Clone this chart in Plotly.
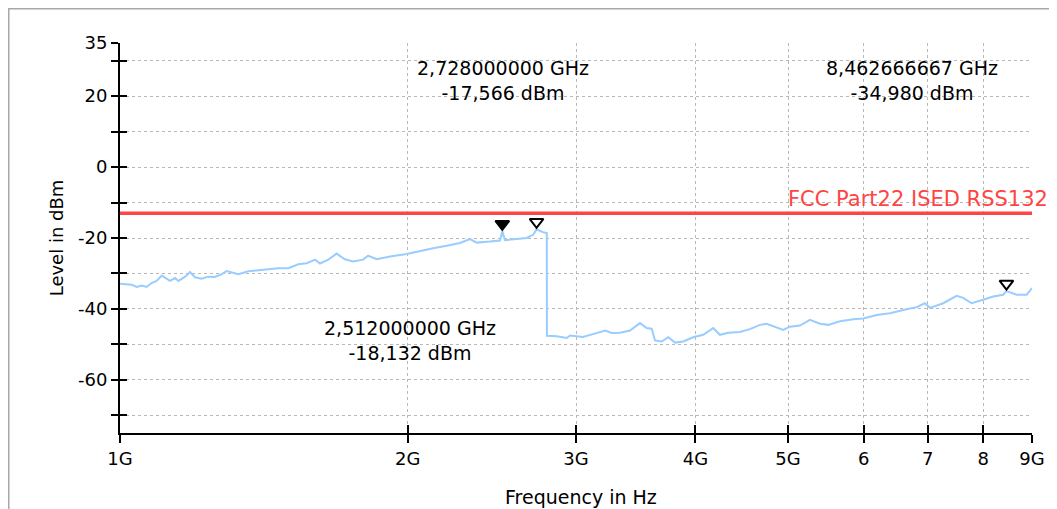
import plotly.graph_objects as go

# ---- data ----
freq_ghz = [1.000, 1.029, 1.041, 1.054, 1.066, 1.079, 1.092, 1.106, 1.128, 1.142,
            1.151, 1.170, 1.184, 1.198, 1.217, 1.237, 1.257, 1.278, 1.293, 1.314,
            1.330, 1.362, 1.395, 1.430, 1.464, 1.500, 1.537, 1.568, 1.600, 1.619,
            1.652, 1.685, 1.719, 1.753, 1.796, 1.818, 1.856, 1.917, 1.995, 2.060,
            2.126, 2.197, 2.268, 2.324, 2.362, 2.438, 2.498, 2.512, 2.528, 2.600,
            2.664, 2.706, 2.728, 2.773, 2.796, 2.797, 2.864, 2.934, 2.957, 3.051,
            3.115, 3.164, 3.218, 3.270, 3.336, 3.417, 3.500, 3.557, 3.600, 3.629,
            3.688, 3.747, 3.808, 3.885, 3.979, 4.076, 4.175, 4.243, 4.329, 4.453,
            4.561, 4.673, 4.749, 4.826, 4.943, 5.023, 5.145, 5.271, 5.400, 5.509,
            5.666, 5.851, 5.994, 6.190, 6.392, 6.600, 6.816, 6.954, 7.038, 7.267,
            7.505, 7.626, 7.781, 8.001, 8.197, 8.397, 8.463, 8.673, 8.887, 9.000]
level_dbm = [-32.9, -33.2, -33.8, -33.4, -33.8, -32.7, -32.1, -30.6, -32.1, -31.3,
             -32.1, -30.9, -29.6, -31.1, -31.5, -30.9, -31.0, -30.2, -29.3, -29.9,
             -30.2, -29.4, -29.2, -28.8, -28.5, -28.5, -27.4, -27.1, -26.1, -27.2,
             -26.1, -24.4, -26.0, -26.6, -26.1, -25.0, -26.0, -25.2, -24.5, -23.6,
             -22.9, -22.2, -21.4, -20.3, -21.3, -21.0, -20.7, -18.132, -20.6, -20.3,
             -20.0, -19.1, -17.566, -18.4, -18.6, -47.6, -47.7, -48.2, -47.5, -47.9,
             -47.3, -46.7, -46.1, -46.8, -46.7, -46.1, -44.0, -45.4, -45.6, -48.9,
             -49.2, -48.0, -49.5, -49.2, -48.0, -47.3, -45.4, -47.3, -46.7, -46.5,
             -45.7, -44.5, -44.2, -44.9, -45.9, -45.0, -44.7, -43.1, -44.2, -44.5,
             -43.5, -42.9, -42.7, -41.7, -41.2, -40.3, -39.5, -38.4, -39.7, -38.4,
             -36.3, -36.9, -38.4, -37.4, -36.5, -36.0, -34.98, -36.0, -36.0, -34.1]

limit_freq = [1.0, 9.0]
limit_level = [-13, -13]
limit_name = "FCC Part22 ISED RSS132"

marker_freq = [2.512, 2.728, 8.462666667]
marker_level = [-18.132, -17.566, -34.980]
marker_filled = [True, False, False]
marker_labels = ["2,512000000 GHz<br>-18,132 dBm",
                 "2,728000000 GHz<br>-17,566 dBm",
                 "8,462666667 GHz<br>-34,980 dBm"]

x_tickvals = [1, 2, 3, 4, 5, 6, 7, 8, 9]
x_ticktext = ["1G", "2G", "3G", "4G", "5G", "6", "7", "8", "9G"]
y_tickvals = [35, 30, 20, 10, 0, -10, -20, -30, -40, -50, -60, -70]
y_ticktext = ["35", "", "20", "", "0", "", "-20", "", "-40", "", "-60", ""]
x_title = "Frequency in Hz"
y_title = "Level in dBm"

# ---- styling ----
FONT = "DejaVu Sans"
TRACE_COLOR = "#99ccff"
LIMIT_COLOR = "#ff4444"
GRID_COLOR = "#b8b8b8"
X_RANGE = [0, 0.9542425094]
Y_RANGE = [-75, 35]
MARKER_OFFSET_DB = 2.1

fig = go.Figure()

fig.add_trace(go.Scatter(x=freq_ghz, y=level_dbm, mode="lines",
                         line=dict(color=TRACE_COLOR, width=2),
                         showlegend=False, hoverinfo="skip"))
fig.add_trace(go.Scatter(x=limit_freq, y=limit_level, mode="lines",
                         line=dict(color=LIMIT_COLOR, width=3.5),
                         showlegend=False, hoverinfo="skip"))

for f, lv, filled in zip(marker_freq, marker_level, marker_filled):
    fig.add_trace(go.Scatter(
        x=[f], y=[lv + MARKER_OFFSET_DB], mode="markers",
        marker=dict(symbol="triangle-down" if filled else "triangle-down-open",
                    size=12, color="black", line=dict(color="black", width=2)),
        showlegend=False, hoverinfo="skip"))

# invisible trace for the overlay axes (inside half of crossing ticks)
fig.add_trace(go.Scatter(x=[1], y=[0], xaxis="x2", yaxis="y2", mode="markers",
                         marker=dict(opacity=0), showlegend=False, hoverinfo="skip"))

axis_font = dict(family=FONT, size=18, color="black")

fig.update_layout(
    width=1049, height=501,
    margin=dict(l=112, r=25, t=35, b=76, autoexpand=False),
    paper_bgcolor="white",
    plot_bgcolor="white",
    font=dict(family=FONT, size=18, color="black"),
    xaxis=dict(type="log", range=X_RANGE, tickvals=x_tickvals, ticktext=x_ticktext,
               ticks="outside", ticklen=8, tickwidth=2, tickcolor="black",
               showline=True, linecolor="black", linewidth=2,
               showgrid=True, gridcolor=GRID_COLOR, griddash="dot", gridwidth=1,
               zeroline=False, tickfont=axis_font, automargin=False),
    yaxis=dict(range=Y_RANGE, tickvals=y_tickvals, ticktext=y_ticktext,
               ticks="outside", ticklen=7, tickwidth=2, tickcolor="black",
               showline=True, linecolor="black", linewidth=2,
               showgrid=True, gridcolor=GRID_COLOR, griddash="dot", gridwidth=1,
               zeroline=False, tickfont=axis_font, automargin=False,
               title=dict(text=y_title, font=axis_font, standoff=10)),
    xaxis2=dict(type="log", range=X_RANGE, tickvals=x_tickvals, overlaying="x",
                anchor="y2", side="bottom", ticks="inside", ticklen=8, tickwidth=2,
                tickcolor="black", showticklabels=False, showgrid=False,
                zeroline=False, showline=False, automargin=False),
    yaxis2=dict(range=Y_RANGE, tickvals=y_tickvals, overlaying="y", anchor="x2",
                side="left", ticks="inside", ticklen=7, tickwidth=2,
                tickcolor="black", showticklabels=False, showgrid=False,
                zeroline=False, showline=False, automargin=False),
)

# frame of the outer window (left and top edges)
fig.add_shape(type="rect", xref="paper", yref="paper",
              x0=-0.1228, x1=1.2, y0=-0.5, y1=1.0897,
              line=dict(color="#a8a8a8", width=3), fillcolor="rgba(0,0,0,0)",
              layer="below")

# x-axis title (partly cut by the window bottom, as in the reference)
fig.add_annotation(xref="paper", yref="paper", x=0.5055, y=-0.164,
                   xanchor="center", yanchor="middle", text=x_title,
                   showarrow=False, font=dict(family=FONT, size=19, color="black"))

# limit line label
fig.add_annotation(xref="paper", x=1.0197, xanchor="right",
                   yref="y", y=limit_level[0], yanchor="bottom",
                   text=limit_name, showarrow=False,
                   font=dict(family=FONT, size=21, color=LIMIT_COLOR))

# marker readouts
label_pos = [(0.318, 0.238), (0.42, 0.905), (0.868, 0.905)]
for txt, (px, py) in zip(marker_labels, label_pos):
    fig.add_annotation(xref="paper", yref="paper", x=px, y=py,
                       xanchor="center", yanchor="middle", align="center",
                       text=txt, showarrow=False,
                       font=dict(family=FONT, size=19, color="black"))

fig.write_html("out.html")
